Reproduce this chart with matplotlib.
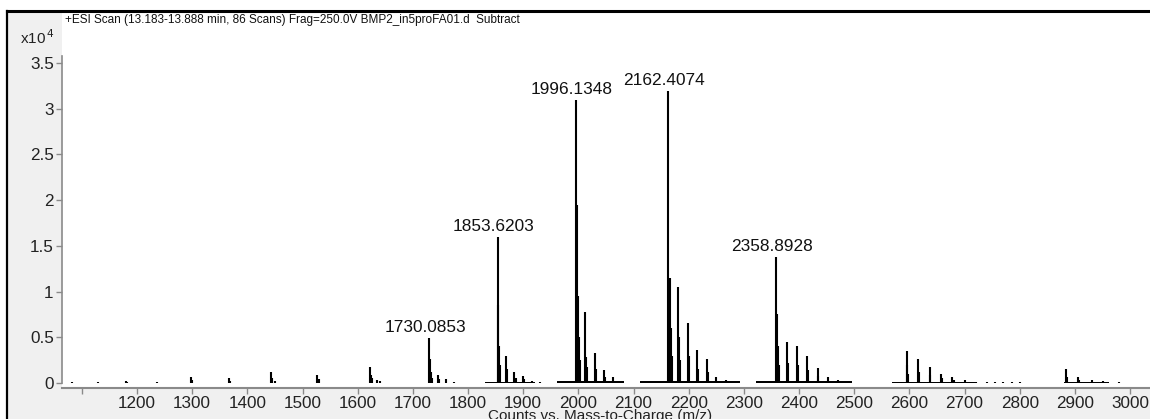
import matplotlib
matplotlib.use("Agg")
import matplotlib.pyplot as plt
from matplotlib.patches import Rectangle
from matplotlib.lines import Line2D

# peak list (m/z, counts)
mz = [1081.7, 1129.0, 1180.0, 1182.0, 1236.0, 1298.0, 1300.0, 1366.0, 1368.0,
      1442.0, 1444.0, 1450.0, 1527.0, 1529.0, 1622.0, 1624.0, 1626.0, 1635.0, 1640.0,
      1730.0853, 1731.5, 1733.0, 1735.0, 1745.0, 1747.0, 1760.0, 1775.0,
      1853.6203, 1855.0, 1856.5, 1858.0, 1868.5, 1870.0, 1884.0, 1886.0, 1900.0, 1902.0, 1915.0, 1930.0,
      1996.1348, 1997.5, 1999.0, 2001.0, 2003.0, 2011.5, 2013.0, 2015.0, 2030.0, 2032.0,
      2046.0, 2048.0, 2062.0, 2078.0,
      2162.4074, 2165.5, 2167.0, 2169.0, 2180.5, 2182.0, 2184.0, 2198.5, 2200.5, 2215.0, 2217.0,
      2232.5, 2234.0, 2250.0, 2268.0, 2285.0,
      2358.8928, 2360.5, 2362.0, 2364.0, 2377.5, 2379.0, 2396.5, 2398.0, 2415.0, 2417.0,
      2433.5, 2435.0, 2452.0, 2470.0, 2488.0,
      2594.7, 2596.0, 2598.0, 2615.0, 2617.0, 2636.5, 2638.0, 2657.0, 2659.0, 2678.0, 2680.0,
      2700.0, 2720.0, 2740.0, 2755.0, 2770.0, 2785.0, 2800.0,
      2883.0, 2885.0, 2906.0, 2908.0, 2930.0, 2950.0, 2980.0]
counts = [100, 120, 250, 100, 150, 700, 300, 500, 250,
          1200, 600, 200, 900, 400, 1800, 900, 500, 300, 200,
          4900, 2600, 1200, 500, 900, 400, 400, 150,
          16000, 8500, 4000, 2000, 3000, 1500, 1200, 600, 800, 400, 200, 100,
          31000, 19500, 9500, 5000, 2500, 7800, 2800, 1800, 3300, 1500,
          1400, 700, 700, 200,
          32000, 11500, 6000, 3000, 10500, 5000, 2500, 6600, 3000, 3600, 1500,
          2600, 1200, 700, 300, 100,
          13800, 7500, 4000, 2000, 4500, 2200, 4000, 2000, 3000, 1400,
          1600, 800, 700, 300, 100,
          3500, 2000, 1000, 2600, 1200, 1700, 900, 1000, 500, 700, 350,
          300, 150, 80, 60, 60, 60, 60,
          1500, 700, 700, 300, 300, 200, 100]

# low baseline under each charge-state cluster
base_start = [1830, 1962, 2112, 2322, 2568, 2880]
base_end = [1922, 2082, 2292, 2495, 2722, 2962]
base_level = [150, 200, 200, 180, 150, 100]

# labelled peaks
label_mz = [1730.0853, 1853.6203, 1996.1348, 2162.4074, 2358.8928]
label_counts = [4900, 16000, 31000, 32000, 13800]

xticks = list(range(1100, 3100, 100))
yticks = [0, 5000, 10000, 15000, 20000, 25000, 30000, 35000]
ytick_labels = ["0", "0.5", "1", "1.5", "2", "2.5", "3", "3.5"]

plt.rcParams["font.family"] = ["Liberation Sans", "DejaVu Sans"]

W, H = 1150, 419
fig = plt.figure(figsize=(W / 100, H / 100), dpi=100, facecolor="white")

# grey panel and black frame
fig.patches.append(Rectangle((8 / W, 0), 1, 1 - 12 / H, transform=fig.transFigure,
                             facecolor="#f0f0f0", edgecolor="none", zorder=-2))
fig.lines.append(Line2D([7 / W, 1], [1 - 11 / H, 1 - 11 / H], transform=fig.transFigure,
                        color="black", lw=2.2))
fig.lines.append(Line2D([7 / W, 7 / W], [0, 1 - 11 / H], transform=fig.transFigure,
                        color="black", lw=1.6))

ax = fig.add_axes([62 / W, 31 / H, 1 - 62 / W, (388 - 13) / H])
ax.set_facecolor("white")

ax.bar(base_start, base_level, width=[e - s for s, e in zip(base_start, base_end)],
       align="edge", color="black", linewidth=0)
ax.vlines(mz, 0, counts, color="black", linewidth=1.5)

for m, c in zip(label_mz, label_counts):
    ax.annotate(f"{m:.4f}", (m, c), xytext=(-3, 2), textcoords="offset points",
                ha="center", va="bottom", fontsize=12.4, color="#111111")

ax.set_xlim(1064, 3036)
ax.set_ylim(-547, 40480)

for s in ["top", "right"]:
    ax.spines[s].set_visible(False)
ax.spines["left"].set_bounds(0, 35800)
ax.spines["left"].set_color("#8a8a8a")
ax.spines["bottom"].set_color("#8a8a8a")
ax.spines["left"].set_linewidth(1.2)
ax.spines["bottom"].set_linewidth(1.5)

ax.set_xticks(xticks)
ax.set_xticklabels(["" if t == 1100 else str(t) for t in xticks])
ax.set_yticks(yticks)
ax.set_yticklabels(ytick_labels)
ax.tick_params(axis="both", colors="#8a8a8a", labelcolor="#222222",
               labelsize=12.3, length=4, width=1, pad=2)

fig.text(65 / W, 1 - 20 / H, "+ESI Scan (13.183-13.888 min, 86 Scans) Frag=250.0V BMP2_in5proFA01.d  Subtract",
         fontsize=8.5, va="center", ha="left", color="#111111")
fig.text(20 / W, 1 - 38 / H, r"x10$^{\,4}$", fontsize=11, va="center", ha="left", color="#222222")
# axis title sits below the tick labels and runs off the bottom edge, as in the source
fig.text(600 / W, 1 - 409 / H, "Counts vs. Mass-to-Charge (m/z)", fontsize=11,
         va="top", ha="center", color="#222222")

fig.savefig("out.png", dpi=100, facecolor=fig.get_facecolor())
